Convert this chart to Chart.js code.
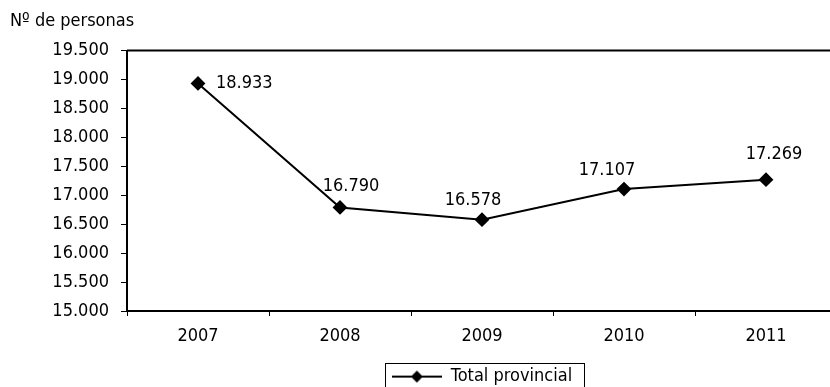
<!DOCTYPE html>
<html>
<head>
<meta charset="utf-8">
<script src="https://cdn.jsdelivr.net/npm/chart.js@4.4.1/dist/chart.umd.min.js"></script>
<style>
  html, body { margin: 0; padding: 0; background: #fff; overflow: hidden; }
  #wrap { width: 845px; height: 400px; }
</style>
</head>
<body>
<div id="wrap"><canvas id="chart" width="845" height="400"></canvas></div>
<script>
// data
const years = ['2007', '2008', '2009', '2010', '2011'];
const personas = [18933, 16790, 16578, 17107, 17269];
const yMin = 15000;
const yMax = 19500;
const yStep = 500;
const seriesName = 'Total provincial';
const yTitle = 'Nº de personas';

const FONT = '"DejaVu Sans Condensed", "Liberation Sans", sans-serif';

// 19500 -> "19.500"
const fmt = v => String(v).replace(/\B(?=(\d{3})+(?!\d))/g, '.');

// legend marker: short line with a diamond in the middle
const marker = document.createElement('canvas');
marker.width = 50;
marker.height = 14;
(function () {
  const c = marker.getContext('2d');
  c.strokeStyle = '#000';
  c.lineWidth = 2;
  c.beginPath();
  c.moveTo(0, 7);
  c.lineTo(50, 7);
  c.stroke();
  c.fillStyle = '#000';
  c.beginPath();
  c.moveTo(25, 1);
  c.lineTo(31, 7);
  c.lineTo(25, 13);
  c.lineTo(19, 7);
  c.closePath();
  c.fill();
})();

// value labels next to the points
const valueLabels = {
  id: 'valueLabels',
  afterDatasetsDraw(chart, args, opts) {
    const ctx = chart.ctx;
    const meta = chart.getDatasetMeta(0);
    ctx.save();
    ctx.fillStyle = '#000';
    ctx.font = '18px ' + FONT;
    ctx.textBaseline = 'middle';
    meta.data.forEach((pt, i) => {
      const n = opts.nudge[i] || {dx: 0, dy: -20};
      ctx.textAlign = n.align || 'center';
      ctx.fillText(fmt(personas[i]), pt.x + n.dx, pt.y + n.dy);
    });
    ctx.restore();
  }
};

// top line of the plot frame + box round the legend
const frame = {
  id: 'frame',
  afterDraw(chart) {
    const ctx = chart.ctx;
    const a = chart.chartArea;
    ctx.save();
    ctx.strokeStyle = '#000';
    ctx.lineWidth = 2;
    ctx.beginPath();
    ctx.moveTo(a.left, a.top);
    ctx.lineTo(a.right, a.top);
    ctx.stroke();
    const hb = chart.legend.legendHitBoxes[0];
    if (hb) {
      ctx.lineWidth = 1;
      ctx.strokeStyle = '#000';
      ctx.strokeRect(Math.round(hb.left - 7) + 0.5, Math.round(hb.top - 5) + 0.5,
        Math.round(hb.width + 19), Math.round(hb.height + 12));
    }
    ctx.restore();
  }
};

new Chart(document.getElementById('chart'), {
  type: 'line',
  data: {
    labels: years,
    datasets: [{
      label: seriesName,
      data: personas,
      borderColor: '#000',
      borderWidth: 2,
      backgroundColor: '#000',
      pointStyle: 'rectRot',
      pointRadius: 6,
      pointBackgroundColor: '#000',
      pointBorderColor: '#000',
      tension: 0,
      fill: false
    }]
  },
  options: {
    responsive: false,
    animation: false,
    layout: { padding: { left: 10, top: 11, right: 8, bottom: 4.4 } },
    scales: {
      x: {
        offset: true,
        ticks: { color: '#000', font: { family: FONT, size: 18 }, padding: 10, maxRotation: 0 },
        grid: { offset: true, drawOnChartArea: false, tickLength: 5, color: '#000', lineWidth: 1 },
        border: { color: '#000', width: 2 }
      },
      y: {
        min: yMin,
        max: yMax,
        ticks: { stepSize: yStep, color: '#000', font: { family: FONT, size: 18 }, padding: 12,
          callback: v => fmt(v) },
        grid: { drawOnChartArea: false, tickLength: 6, color: '#000', lineWidth: 1 },
        border: { color: '#000', width: 2 },
        afterFit: s => { s.width = 117; }
      }
    },
    plugins: {
      title: {
        display: true,
        text: yTitle,
        align: 'start',
        color: '#000',
        font: { family: FONT, size: 18, weight: 'normal' },
        padding: { top: 0, bottom: 18 }
      },
      legend: {
        position: 'bottom',
        fullSize: false,
        labels: {
          color: '#000',
          font: { family: FONT, size: 18 },
          usePointStyle: true,
          pointStyleWidth: 50,
          boxHeight: 14,
          padding: 10,
          generateLabels: chart => [{
            text: seriesName,
            pointStyle: marker,
            fillStyle: '#000',
            strokeStyle: '#000',
            lineWidth: 0,
            fontColor: '#000',
            datasetIndex: 0
          }]
        }
      },
      tooltip: { enabled: false },
      valueLabels: {
        nudge: [
          {dx: 18, dy: 0, align: 'left'},
          {dx: 11, dy: -21},
          {dx: -9, dy: -19},
          {dx: -17, dy: -19},
          {dx: 8, dy: -25}
        ]
      }
    }
  },
  plugins: [valueLabels, frame]
});
</script>
</body>
</html>
